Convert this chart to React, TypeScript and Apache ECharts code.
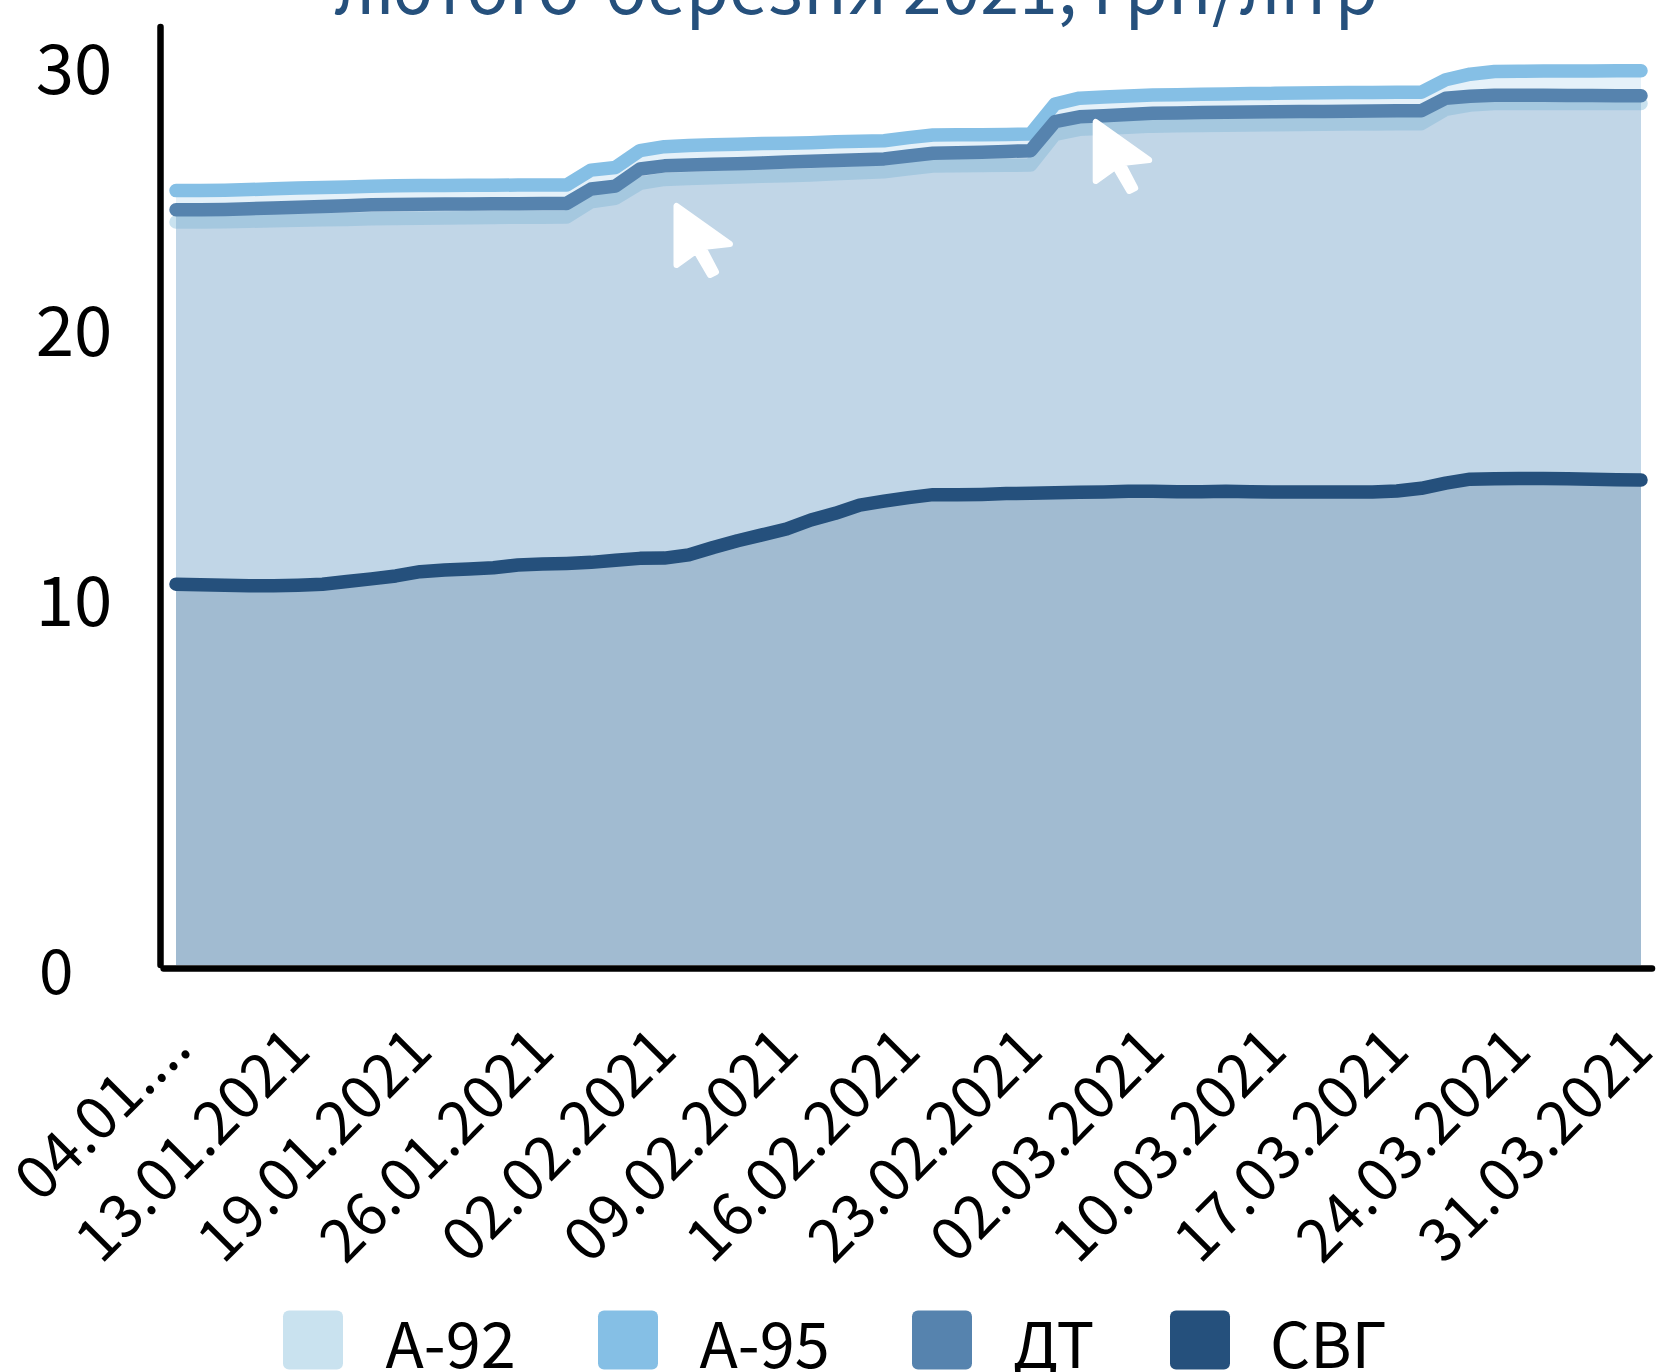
import React, { useEffect, useRef } from "react";
import * as echarts from "echarts";

const dates = [
  "04.01.2021","05.01.2021","06.01.2021","08.01.2021","12.01.2021","13.01.2021","14.01.2021","15.01.2021","16.01.2021","18.01.2021",
  "19.01.2021","20.01.2021","21.01.2021","22.01.2021","25.01.2021","26.01.2021","27.01.2021","28.01.2021","29.01.2021","01.02.2021",
  "02.02.2021","03.02.2021","04.02.2021","05.02.2021","08.02.2021","09.02.2021","10.02.2021","11.02.2021","12.02.2021","15.02.2021",
  "16.02.2021","17.02.2021","18.02.2021","19.02.2021","22.02.2021","23.02.2021","24.02.2021","25.02.2021","26.02.2021","01.03.2021",
  "02.03.2021","03.03.2021","04.03.2021","05.03.2021","09.03.2021","10.03.2021","11.03.2021","12.03.2021","15.03.2021","16.03.2021",
  "17.03.2021","18.03.2021","19.03.2021","22.03.2021","23.03.2021","24.03.2021","25.03.2021","26.03.2021","29.03.2021","30.03.2021",
  "31.03.2021",
];
const a92 = [
  24.22,24.22,24.23,24.25,24.27,24.29,24.31,24.32,24.34,24.35,24.36,24.37,24.38,24.39,24.40,24.40,24.41,24.98,25.11,25.67,
  25.82,25.85,25.88,25.91,25.94,25.96,25.99,26.03,26.07,26.11,26.22,26.32,26.33,26.34,26.35,26.36,27.51,27.70,27.74,27.78,
  27.82,27.83,27.84,27.85,27.86,27.87,27.88,27.89,27.90,27.90,27.91,27.91,28.45,28.61,28.67,28.67,28.67,28.67,28.67,28.67,28.67,
];
const a95 = [
  25.40,25.40,25.41,25.44,25.47,25.50,25.52,25.54,25.56,25.58,25.59,25.59,25.60,25.60,25.61,25.61,25.61,26.17,26.27,26.90,
  27.05,27.09,27.12,27.14,27.17,27.18,27.20,27.23,27.25,27.27,27.39,27.49,27.50,27.50,27.51,27.52,28.65,28.87,28.91,28.95,
  28.99,29.00,29.02,29.03,29.04,29.05,29.06,29.07,29.08,29.08,29.09,29.09,29.56,29.77,29.87,29.88,29.89,29.89,29.89,29.90,29.90,
];
const dt = [
  24.68,24.68,24.69,24.72,24.75,24.78,24.80,24.83,24.87,24.88,24.89,24.90,24.90,24.91,24.91,24.92,24.92,25.46,25.57,26.21,
  26.33,26.36,26.39,26.41,26.44,26.47,26.50,26.53,26.56,26.59,26.70,26.80,26.82,26.84,26.87,26.90,27.99,28.17,28.21,28.26,
  28.30,28.31,28.33,28.34,28.35,28.36,28.37,28.37,28.38,28.39,28.40,28.40,28.87,28.94,28.98,28.98,28.98,28.97,28.97,28.96,28.96,
];
const svg = [
  10.63,10.61,10.59,10.57,10.57,10.59,10.63,10.73,10.83,10.94,11.10,11.16,11.20,11.25,11.35,11.39,11.41,11.45,11.53,11.60,
  11.61,11.73,12.01,12.26,12.48,12.70,13.04,13.29,13.60,13.75,13.88,13.99,13.99,14.00,14.03,14.04,14.06,14.08,14.09,14.12,
  14.12,14.10,14.10,14.12,14.10,14.09,14.09,14.09,14.09,14.09,14.13,14.23,14.42,14.57,14.59,14.60,14.60,14.59,14.57,14.55,14.54,
];
const seriesNames = ["А-92", "А-95", "ДТ", "СВГ"];
const seriesColors = ["#c9e2ef", "#85bfe5", "#5683ae", "#25507c"];
const seriesValues = [a92, a95, dt, svg];
const areaOpacity = [0.2, 0.21, 0.2, 0.2];
const legendLefts = [283, 598, 912, 1170];
const legendTextGaps = [37.5, 36.5, 36, 35];
const labelledIndexes = [0, 5, 10, 15, 20, 25, 30, 35, 40, 45, 50, 55, 60];
const axisFloor = -3.66;
const yTicks = [axisFloor, 10, 20, 30];
const titleText = "лютого-березня 2021, грн/літр";
const firstDateLabel = "04.01....";
const cursorShape = [[0,0],[0,59],[19.5,45],[33.5,69],[39.5,66],[26.5,41],[53.5,38]];
const cursorSpots = [[676.5,206],[1095.7,122]];
const FONT = "'Noto Sans CJK SC', 'Noto Sans', sans-serif";
const SWATCH = "path://M6,0H54A6,6,0,0,1,60,6V53A6,6,0,0,1,54,59H6A6,6,0,0,1,0,53V6A6,6,0,0,1,6,0Z";

export default function App() {
  const ref = useRef<HTMLDivElement>(null);
  useEffect(() => {
    const chart = echarts.init(ref.current!, null, { renderer: "svg" });
    const tick = { fontFamily: FONT, color: "#000" };
    chart.setOption({
      animation: false,
      backgroundColor: "#ffffff",
      title: {
        text: titleText,
        left: 851,
        top: -56,
        textAlign: "center",
        textStyle: { color: "#25507c", fontFamily: FONT, fontWeight: "normal", fontSize: 69.8 },
      },
      grid: { left: 163.6, top: 27, width: 1488.4, height: 938, containLabel: false, outerBoundsMode: "none" },
      xAxis: {
        type: "value",
        min: -0.508,
        max: 60.45,
        offset: 3.25,
        axisLine: { onZero: false, lineStyle: { color: "#000", width: 6.5 } },
        axisTick: { show: false },
        splitLine: { show: false },
        axisLabel: {
          customValues: labelledIndexes,
          rotate: 45,
          margin: 60,
          color: "#000",
          fontFamily: FONT,
          fontSize: 60,
          hideOverlap: false,
          formatter: (v: number) => (v === 0 ? `{f|${firstDateLabel}}` : `{d|${dates[v]}}`),
          rich: {
            f: { ...tick, fontSize: 60, padding: [4, 3.5, 0, 0] },
            d: { ...tick, fontSize: 60, padding: [4, 7.5, 0, 0] },
          },
        },
      },
      yAxis: {
        type: "value",
        min: axisFloor,
        max: 31.54,
        offset: 3.25,
        axisLine: { onZero: false, show: true, lineStyle: { color: "#000", width: 6.5 } },
        axisTick: { show: false },
        splitLine: { show: false },
        axisLabel: {
          customValues: yTicks,
          margin: 48,
          color: "#000",
          fontFamily: FONT,
          formatter: (v: number) => (v < 0 ? "{z|0}" : `{t${v}|${v}}`),
          rich: {
            t30: { ...tick, fontSize: 69, padding: [0, 0, 8, 0] },
            t20: { ...tick, fontSize: 69, padding: [0, 0, 17, 0] },
            t10: { ...tick, fontSize: 69, padding: [0, 0, 10, 0] },
            z: { ...tick, fontSize: 62, padding: [4, 39, 0, 0] },
          },
        },
      },
      legend: seriesNames.map((name, k) => ({
        left: legendLefts[k],
        top: 1308.5,
        padding: 0,
        orient: "horizontal",
        itemWidth: 60,
        itemHeight: 59,
        icon: SWATCH,
        selectedMode: false,
        itemStyle: { borderWidth: 0 },
        textStyle: { fontSize: 63, fontFamily: FONT, color: "#000", padding: [0, 0, 0, legendTextGaps[k]] },
        data: [name],
      })),
      series: seriesNames.map((name, k) => ({
        name,
        type: "line",
        color: seriesColors[k],
        showSymbol: false,
        symbol: "none",
        clip: false,
        z: 2 + k,
        lineStyle: { color: seriesColors[k], width: 13.5, cap: "round", join: "round" },
        areaStyle: { color: seriesColors[k], opacity: areaOpacity[k], origin: "start" },
        data: seriesValues[k].map((v, i) => [i, v]),
      })),
      graphic: cursorSpots.map(([x, y]) => ({
        type: "polygon",
        x,
        y,
        z: 100,
        shape: { points: cursorShape },
        style: { fill: "#fff", stroke: "#fff", lineWidth: 6, lineJoin: "round" },
      })),
    });
    return () => chart.dispose();
  }, []);
  return <div ref={ref} style={{ position: "absolute", left: 0, top: 0, width: 1657, height: 1372 }} />;
}
